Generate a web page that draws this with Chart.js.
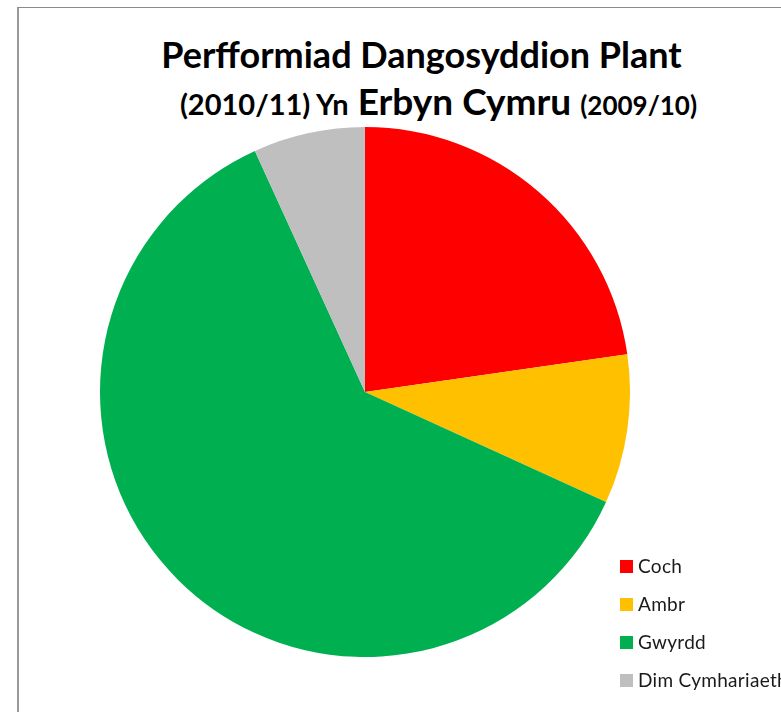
<!DOCTYPE html>
<html>
<head>
<meta charset="utf-8">
<script src="https://cdn.jsdelivr.net/npm/chart.js@4"></script>
<style>
  body { margin: 0; background: #fff; width: 781px; height: 712px; overflow: hidden; position: relative; font-family: Lato, "Open Sans", sans-serif; }
  #frame { position: absolute; left: 17px; top: 7px; width: 900px; height: 900px; border-left: 2px solid #999; border-top: 1px solid #8a8a8a; }
  .ttl { position: absolute; width: 781px; text-align: center; font-weight: bold; color: #000; white-space: nowrap; }
  #t1 { top: 36px; left: 31px; font-size: 36px; line-height: 36px; }
  #t2 { top: 81px; left: 48px; font-size: 37px; line-height: 40px; }
  .s1 { font-size: 29px; }
  .s2 { font-size: 26px; }
  #pieBox { position: absolute; left: 100px; top: 127px; width: 530px; height: 530px; }
  #legend { position: absolute; left: 620px; top: 556px; font-size: 19px; color: #1a1a1a; white-space: nowrap; letter-spacing: 0.3px; }
  #legend .row { position: relative; height: 38px; line-height: 20px; padding-left: 18px; }
  #legend .box { position: absolute; left: 0; top: 4px; width: 13px; height: 13px; }
</style>
</head>
<body>
<div id="frame"></div>
<div id="t1" class="ttl">Perfformiad Dangosyddion Plant</div>
<div id="t2" class="ttl"><span class="s1">(2010/11) Yn</span> Erbyn Cymru <span class="s2">(2009/10)</span></div>
<div id="pieBox"><canvas id="grafico"></canvas></div>
<div id="legend"></div>
<script>
// categorïau a gwerthoedd
const labels = ['Coch', 'Ambr', 'Gwyrdd', 'Dim Cymhariaeth'];
const valores = [10, 4, 27, 3];
const cores = ['#FF0000', '#FFC000', '#00B050', '#BFBFBF'];

new Chart(document.getElementById('grafico'), {
  type: 'pie',
  data: {
    labels: labels,
    datasets: [{
      data: valores,
      backgroundColor: cores,
      borderWidth: 0
    }]
  },
  options: {
    responsive: true,
    maintainAspectRatio: false,
    animation: false,
    layout: { padding: 0 },
    plugins: {
      legend: { display: false },
      tooltip: { enabled: false }
    }
  }
});

// Legend
const leg = document.getElementById('legend');
labels.forEach((l, i) => {
  const d = document.createElement('div');
  d.className = 'row';
  d.innerHTML = '<span class="box" style="background:' + cores[i] + '"></span>' + l;
  leg.appendChild(d);
});
</script>
</body>
</html>
